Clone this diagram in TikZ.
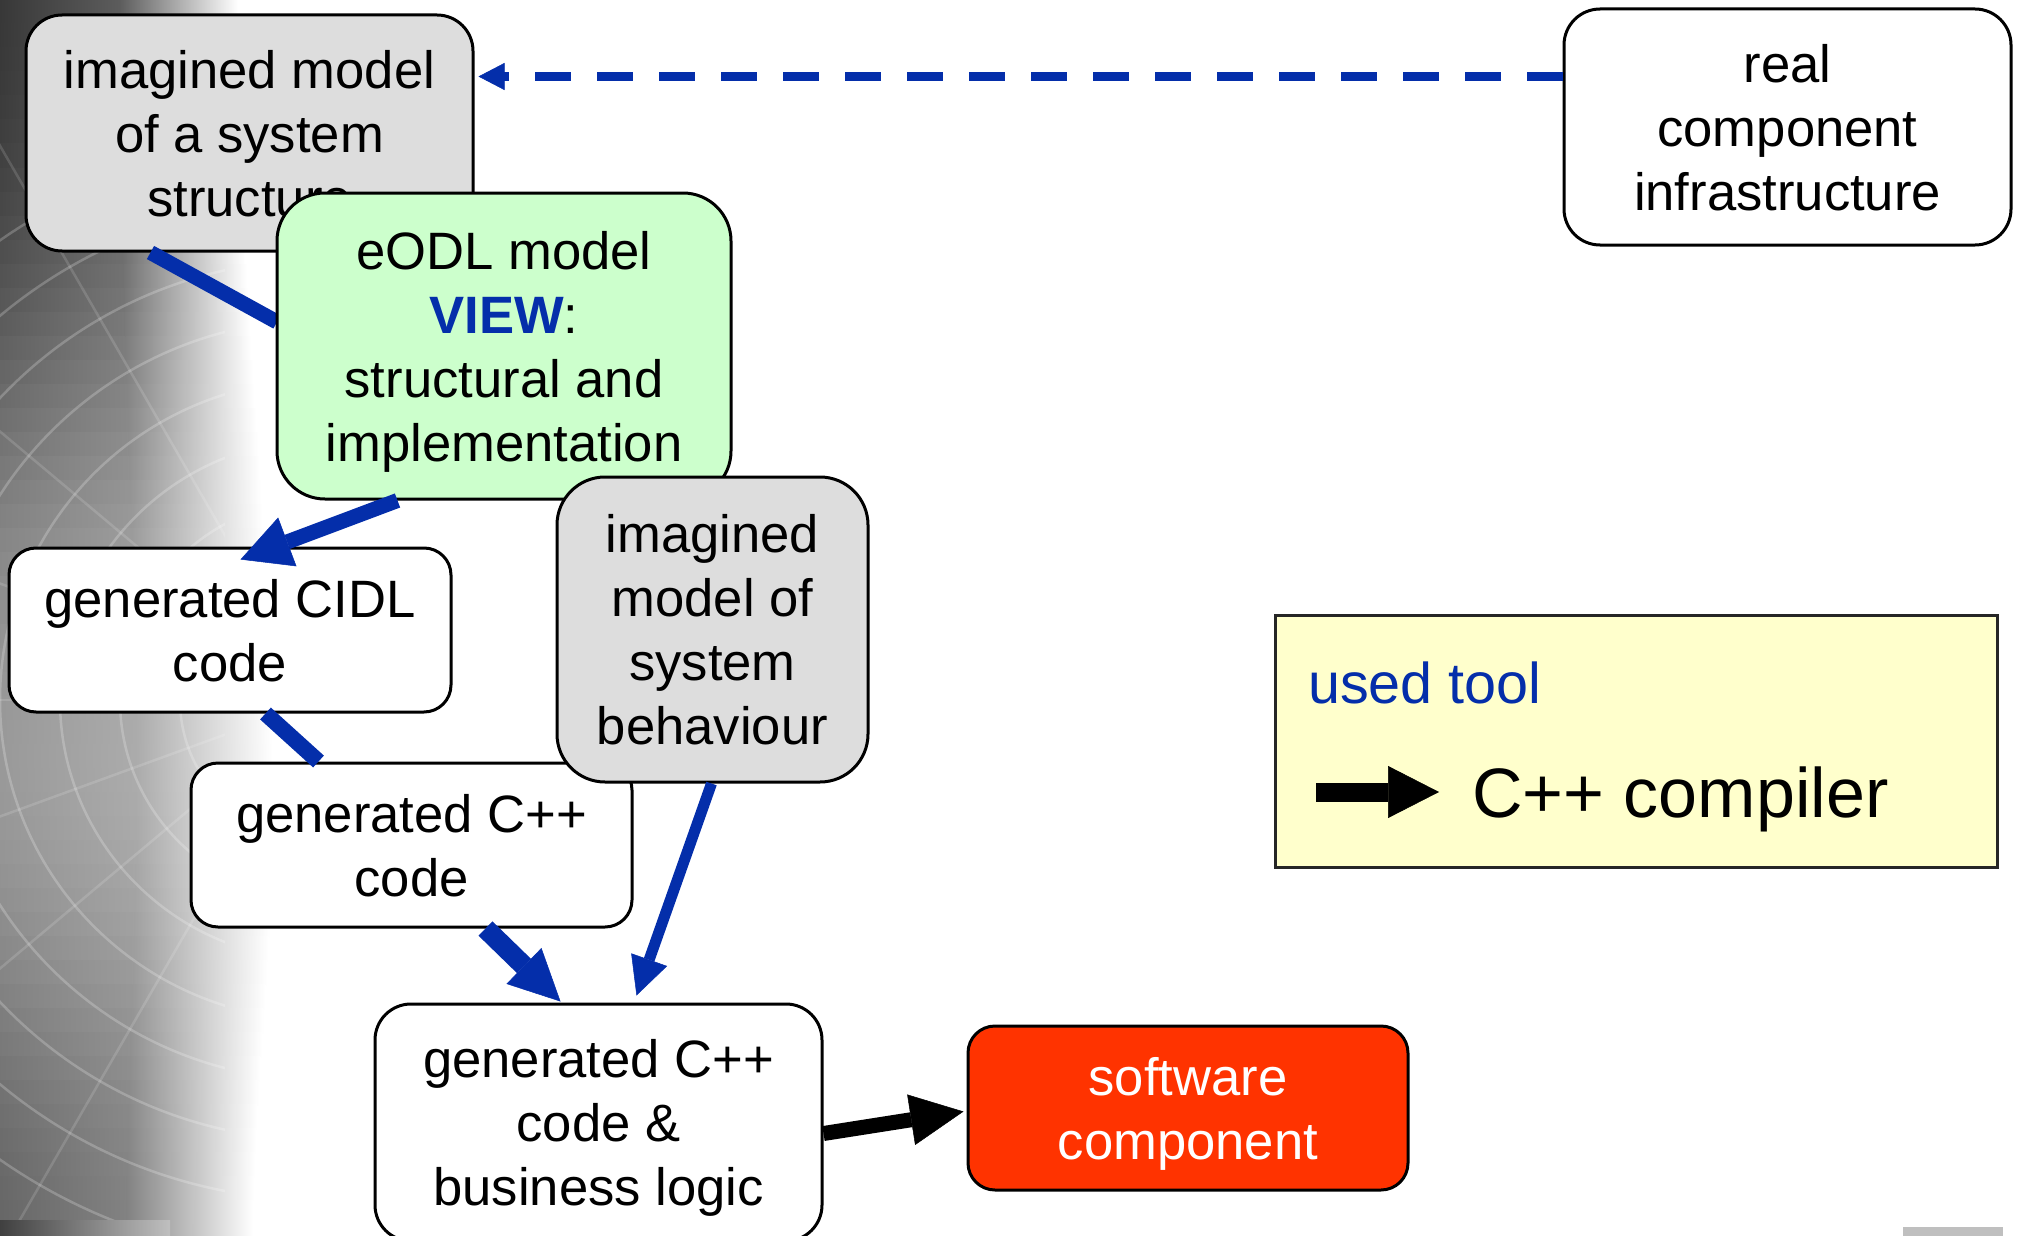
\documentclass[tikz,border=0pt]{standalone}
\usepackage{fontspec}
\setmainfont{Liberation Sans}
\usetikzlibrary{arrows.meta,calc}

\definecolor{linkblue}{RGB}{4,46,170}
\definecolor{structgray}{RGB}{221,221,221}
\definecolor{viewgreen}{RGB}{204,255,204}
\definecolor{outred}{RGB}{255,51,0}
\definecolor{legendyellow}{RGB}{255,255,204}

\begin{document}
\begin{tikzpicture}[x=1pt,y=-1pt,
  box/.style={draw=black, line width=3pt, rectangle, inner sep=0pt, align=center,
    text depth=0pt, font=\fontsize{52.6}{64}\selectfont},
  flow/.style={draw=linkblue, line width=15pt, line cap=butt},
  bighead/.style={-{Triangle[length=50pt,width=52pt,line width=0.5pt]}},
  smallhead/.style={-{Triangle[length=38pt,width=38pt,line width=0.5pt]}}
]
\useasboundingbox (0,0) rectangle (2021,1236);
\fill[white] (0,0) rectangle (2021,1236);

% photo strip along the left edge: thin bands, each fading to white
\foreach \y in {0,24,...,1224}{
  \pgfmathsetmacro{\g}{\y<750 ? 78-19*(1-cos(\y/750*180)) : 40+10*(1-cos((\y-750)/486*180))}
  \pgfmathsetmacro{\e}{\y<800 ? 238+17.5*(1-cos(\y/800*180)) : 273-10*(1-cos((\y-800)/436*180))}
  \pgfmathsetmacro{\gm}{0.82*\g}
  \pgfmathsetmacro{\xa}{0.5*\e}
  \shade[left color=black!\g, right color=black!\gm] (0,\y) rectangle (\xa,\y+25);
  \shade[left color=black!\gm, right color=white] (\xa,\y) rectangle (\e,\y+25);
}
\begin{scope}
  \clip (0,0) rectangle (225,1236);
  \foreach \r in {140,200,260,320,380,440,500,560}
    \draw[white, opacity=0.22, line width=2.5pt] (320,700) circle[radius=\r];
  \foreach \a in {120,140,160,180,200,220,240}
    \draw[white, opacity=0.14, line width=2.5pt] (320,700) -- ++(\a:700);
\end{scope}
\shade[left color=black!75, right color=black!25] (0,1220) rectangle (170,1236);
\fill[black!25] (1903,1227) rectangle (2003,1236);

% models and artefacts
\node[box, fill=structgray, minimum width=447pt, minimum height=236pt, rounded corners=36pt]
  (structure) at (249.5,133) {imagined model\\of a system\\structure};
\draw[flow] ([xshift=126pt]structure.south west) -- (277,322) coordinate (viewin);
\node[box, fill=viewgreen, minimum width=454pt, minimum height=306pt, rounded corners=48pt]
  (view) at (504,346) {eODL model\\\textcolor{linkblue}{\textbf{VIEW}}:\\structural and\\implementation};
\node[box, fill=white, minimum width=447pt, minimum height=236pt, rounded corners=36pt]
  (infra) at (1787.5,127) {real\\component\\infrastructure};
\node[box, fill=white, minimum width=442pt, minimum height=164pt, rounded corners=27pt]
  (cidl) at (230,630) {generated CIDL\\code};
\node[box, fill=white, minimum width=441pt, minimum height=164pt, rounded corners=27pt]
  (cpp) at (411.5,845) {generated C++\\code};
\node[box, fill=structgray, minimum width=311pt, minimum height=305pt, rounded corners=48pt]
  (behaviour) at (712.5,629.5) {imagined\\model of\\system\\behaviour};
\node[box, fill=white, minimum width=447pt, minimum height=237pt, rounded corners=36pt]
  (logic) at (598.5,1122.5) {generated C++\\code \&\\business logic};
\node[box, fill=outred, text=white, minimum width=440pt, minimum height=164pt, rounded corners=27pt]
  (component) at (1188,1108) {software\\component};

% connectors
\draw[linkblue, line width=9.3pt, dash pattern=on 36pt off 26pt,
  -{Triangle[length=26pt,width=27pt,line width=0.5pt]}]
  ([yshift=-69pt]infra.north west) -- ([xshift=4pt,yshift=-63pt]structure.north east);
\draw[flow, bighead] ([xshift=122pt]view.south west) -- ([xshift=233pt,yshift=-13pt]cidl.north west);
\draw[flow, line width=16pt] ([xshift=258pt]cidl.south west) -- ([xshift=129pt]cpp.north west);
\draw[flow, line width=20pt, -{Triangle[length=51pt,width=50pt,line width=0.5pt]}]
  ([xshift=296pt]cpp.south west) -- ([xshift=187pt,yshift=1pt]logic.north west);
\draw[flow, line width=11pt, smallhead]
  ([xshift=156pt]behaviour.south west) -- ([xshift=263pt,yshift=7pt]logic.north west);
\draw[black, line width=15pt, -{Triangle[length=53pt,width=51pt,line width=0.5pt]}]
  ([yshift=-131pt]logic.north east) -- ([xshift=-3pt,yshift=-87pt]component.north west);

% legend
\node[draw=black!85, line width=3pt, fill=legendyellow, rectangle, inner sep=0pt,
  minimum width=722pt, minimum height=252pt] (legend) at (1636,741) {};
\node[anchor=base west, inner sep=0pt, text=linkblue, font=\fontsize{57.5}{69}\selectfont]
  (legendtitle) at (1308,703) {used tool};
\node[anchor=base west, inner sep=0pt, font=\fontsize{70}{84}\selectfont]
  (compiler) at (1472,817) {C++ compiler};
\coordinate (toolfrom) at (1316,792);
\coordinate (toolto) at (1439,792);
\draw[black, line width=19pt, -{Triangle[length=51pt,width=52pt,line width=0.5pt]}]
  (toolfrom) -- (toolto);
\end{tikzpicture}
\end{document}
